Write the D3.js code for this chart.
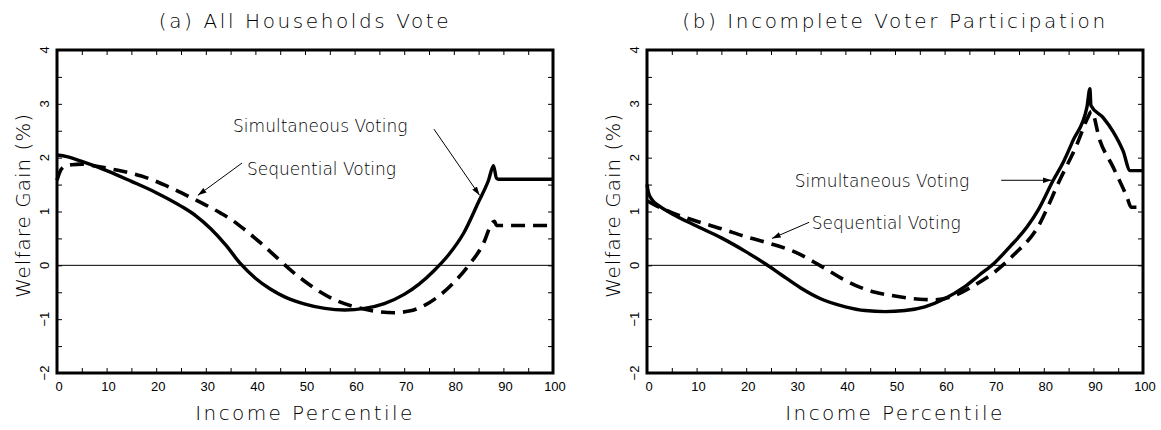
<!DOCTYPE html>
<html>
<head>
<meta charset="utf-8">
<script src="https://cdn.jsdelivr.net/npm/d3@7"></script>
<style>
  html, body { margin: 0; padding: 0; background: #fff; }
  svg { display: block; }
  .ttl { font-family: "DejaVu Sans", sans-serif; font-weight: 200; fill: #000; }
  .tick-lbl { font-family: "Liberation Sans", Arial, sans-serif; font-size: 13px; fill: #000; }
</style>
</head>
<body>
<svg id="chart" width="1161" height="430"></svg>
<script>
// Income percentile grid and welfare gains (%) per voting scheme.
// Panel (a): all households vote
const pctA_sim = [0, 2, 5, 10, 15, 20, 25, 28, 31, 34, 37, 40, 43, 46, 50, 54, 58, 62, 66, 70, 73, 76, 79, 82, 85, 87, 88, 88.6, 89, 100];
const gainA_sim = [2.05, 2.02, 1.93, 1.76, 1.56, 1.35, 1.10, 0.92, 0.68, 0.38, 0.03, -0.24, -0.44, -0.59, -0.72, -0.80, -0.83, -0.80, -0.71, -0.54, -0.35, -0.10, 0.20, 0.60, 1.18, 1.58, 1.85, 1.62, 1.60, 1.60];

const pctA_seq = [0, 0.5, 1.5, 3, 5, 8, 12, 17, 22, 27, 30, 33, 35, 38, 41, 44, 47, 50, 53, 56, 60, 64, 68, 71, 74, 77, 80, 83, 86, 87.8, 88.2, 88.6, 100];
const gainA_seq = [1.58, 1.72, 1.84, 1.87, 1.88, 1.84, 1.77, 1.66, 1.48, 1.26, 1.12, 0.97, 0.86, 0.65, 0.42, 0.17, -0.08, -0.30, -0.49, -0.64, -0.77, -0.85, -0.88, -0.85, -0.75, -0.57, -0.32, 0.0, 0.41, 0.80, 0.82, 0.74, 0.74];

// Panel (b): incomplete voter participation
const pctB_sim = [0, 0.3, 1, 2.5, 5, 10, 15, 20, 24, 27, 31, 35, 40, 44, 48, 52, 56, 60, 64, 67, 70, 73, 76.6, 79, 81.9, 84, 85.9, 88.7, 89.3, 89.5, 92, 94, 96, 97.4, 100];
const gainB_sim = [1.50, 1.35, 1.22, 1.10, 0.96, 0.73, 0.51, 0.25, 0.02, -0.17, -0.42, -0.62, -0.77, -0.84, -0.86, -0.84, -0.77, -0.62, -0.40, -0.18, 0.04, 0.33, 0.71, 1.05, 1.58, 1.93, 2.32, 2.94, 3.28, 2.97, 2.74, 2.48, 2.12, 1.76, 1.76];

const pctB_seq = [0, 2, 5, 10, 15, 20, 25, 30, 35, 40, 43, 46, 50, 55, 58, 62, 66, 70, 74, 78.6, 83.3, 86.7, 88.9, 89.6, 91.3, 94, 96.8, 97.6, 100];
const gainB_seq = [1.20, 1.10, 0.98, 0.82, 0.68, 0.53, 0.40, 0.24, -0.01, -0.28, -0.41, -0.50, -0.57, -0.63, -0.64, -0.56, -0.37, -0.13, 0.20, 0.68, 1.60, 2.25, 2.75, 2.86, 2.32, 1.82, 1.26, 1.08, 1.08];

const xTickLabels = [0, 10, 20, 30, 40, 50, 60, 70, 80, 90, 100];
const yTickLabels = [-2, -1, 0, 1, 2, 3, 4];
const titles = ["(a) All Households Vote", "(b) Incomplete Voter Participation"];
const xTitle = "Income Percentile";
const yTitle = "Welfare Gain (%)";
const simLabel = "Simultaneous Voting";
const seqLabel = "Sequential Voting";

const svg = d3.select("#chart");
const plotTop = 50, plotBottom = 373;

svg.append("defs").append("marker")
  .attr("id", "arrow")
  .attr("viewBox", "0 -4 10 8")
  .attr("refX", 10).attr("refY", 0)
  .attr("markerUnits", "userSpaceOnUse")
  .attr("markerWidth", 9).attr("markerHeight", 7)
  .attr("orient", "auto")
  .append("path").attr("d", "M0,-3.2L10,0L0,3.2Z").attr("fill", "#000");

const panels = [
  {
    left: 57, right: 553, title: titles[0],
    sim: pctA_sim.map((p, i) => [p, gainA_sim[i]]),
    seq: pctA_seq.map((p, i) => [p, gainA_seq[i]]),
    // annotation anchors in data units: text start, arrow start, arrow tip
    simNote: { text: [35.5, 2.48], from: [76, 2.53], to: [85.2, 1.30] },
    seqNote: { text: [38.3, 1.67], from: [37.3, 1.9], to: [28.4, 1.30] }
  },
  {
    left: 647, right: 1143, title: titles[1],
    sim: pctB_sim.map((p, i) => [p, gainB_sim[i]]),
    seq: pctB_seq.map((p, i) => [p, gainB_seq[i]]),
    simNote: { text: [29.8, 1.46], from: [71.4, 1.58], to: [81.6, 1.58] },
    seqNote: { text: [33.2, 0.67], from: [32.7, 0.80], to: [25.2, 0.50] }
  }
];

panels.forEach(P => {
  const x = d3.scaleLinear().domain([0, 100]).range([P.left, P.right]);
  const y = d3.scaleLinear().domain([-2, 4]).range([plotBottom, plotTop]);
  const g = svg.append("g");
  const cx = (P.left + P.right) / 2;

  // inward minor/major ticks on all four sides
  const xt = d3.range(0, 101, 5), yt = d3.range(-2, 4.01, 0.5);
  const tickStyle = sel => { sel.select(".domain").remove(); sel.selectAll("line").attr("stroke", "#000").attr("stroke-width", 1); };
  g.append("g").attr("transform", `translate(0,${plotBottom})`)
    .call(d3.axisBottom(x).tickValues(xt).tickSize(-5).tickFormat("")).call(tickStyle);
  g.append("g").attr("transform", `translate(0,${plotTop})`)
    .call(d3.axisTop(x).tickValues(xt).tickSize(-5).tickFormat("")).call(tickStyle);
  g.append("g").attr("transform", `translate(${P.left},0)`)
    .call(d3.axisLeft(y).tickValues(yt).tickSize(-5).tickFormat("")).call(tickStyle);
  g.append("g").attr("transform", `translate(${P.right},0)`)
    .call(d3.axisRight(y).tickValues(yt).tickSize(-5).tickFormat("")).call(tickStyle);

  // x tick labels
  g.append("g").selectAll("text").data(xTickLabels).join("text")
    .attr("class", "tick-lbl")
    .attr("x", d => x(d) + 2).attr("y", plotBottom + 18)
    .attr("text-anchor", "middle")
    .text(d => d3.format("d")(d));

  // y tick labels, rotated
  g.append("g").selectAll("text").data(yTickLabels).join("text")
    .attr("class", "tick-lbl")
    .attr("transform", d => `translate(${P.left - 8},${y(d)}) rotate(-90)`)
    .attr("text-anchor", "middle")
    .text(d => d3.format("d")(d));

  // zero reference line
  g.append("line")
    .attr("x1", x(0)).attr("x2", x(100)).attr("y1", y(0)).attr("y2", y(0))
    .attr("stroke", "#000").attr("stroke-width", 1);

  const line = d3.line().x(d => x(d[0])).y(d => y(d[1])).curve(d3.curveMonotoneX);

  g.append("path").datum(P.seq).attr("d", line)
    .attr("fill", "none").attr("stroke", "#000").attr("stroke-width", 3.6)
    .attr("stroke-dasharray", "14,8");
  g.append("path").datum(P.sim).attr("d", line)
    .attr("fill", "none").attr("stroke", "#000").attr("stroke-width", 3.4)
    .attr("stroke-linejoin", "round");

  // frame
  g.append("rect")
    .attr("x", P.left).attr("y", plotTop)
    .attr("width", P.right - P.left).attr("height", plotBottom - plotTop)
    .attr("fill", "none").attr("stroke", "#000").attr("stroke-width", 3);

  // annotations
  [[P.simNote, simLabel], [P.seqNote, seqLabel]].forEach(([n, label]) => {
    g.append("text").attr("class", "ttl")
      .attr("x", x(n.text[0])).attr("y", y(n.text[1]))
      .attr("font-size", 17)
      .text(label);
    g.append("line")
      .attr("x1", x(n.from[0])).attr("y1", y(n.from[1]))
      .attr("x2", x(n.to[0])).attr("y2", y(n.to[1]))
      .attr("stroke", "#000").attr("stroke-width", 1)
      .attr("marker-end", "url(#arrow)");
  });

  // panel title
  svg.append("text").attr("class", "ttl")
    .attr("x", cx).attr("y", 28).attr("text-anchor", "middle")
    .attr("font-size", 20).attr("letter-spacing", 2.6)
    .text(P.title);

  // axis titles
  svg.append("text").attr("class", "ttl")
    .attr("x", cx).attr("y", 420).attr("text-anchor", "middle")
    .attr("font-size", 20).attr("letter-spacing", 2.4)
    .text(xTitle);
  svg.append("text").attr("class", "ttl")
    .attr("transform", `translate(${P.left - 27},${(plotTop + plotBottom) / 2 - 6}) rotate(-90)`)
    .attr("text-anchor", "middle")
    .attr("font-size", 20).attr("letter-spacing", 1)
    .text(yTitle);
});
</script>
</body>
</html>
